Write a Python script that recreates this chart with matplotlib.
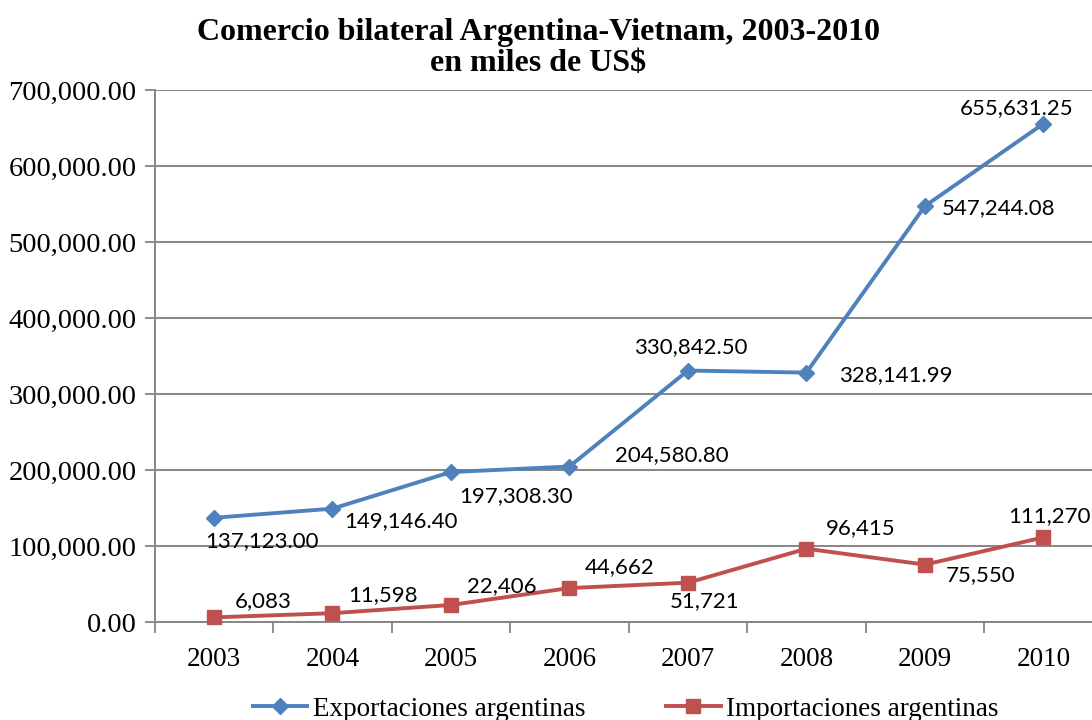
import matplotlib
matplotlib.use("Agg")
import matplotlib.pyplot as plt
from matplotlib.ticker import FuncFormatter, FixedLocator

years = ["2003", "2004", "2005", "2006", "2007", "2008", "2009", "2010"]
exportaciones = [137123.00, 149146.40, 197308.30, 204580.80, 330842.50, 328141.99, 547244.08, 655631.25]
importaciones = [6083, 11598, 22406, 44662, 51721, 96415, 75550, 111270]
exp_labels = ["137,123.00", "149,146.40", "197,308.30", "204,580.80", "330,842.50", "328,141.99", "547,244.08", "655,631.25"]
imp_labels = ["6,083", "11,598", "22,406", "44,662", "51,721", "96,415", "75,550", "111,270"]

# label offsets in pixels (dx, dy) relative to the point
exp_off = [(48, -23), (68, -12), (65, -24), (102, 11), (3, 23), (89, -2), (74, -2), (-27, 16)]
imp_off = [(49, 16), (51, 18), (51, 19), (50, 21), (17, -18), (54, 21), (56, -11), (6, 21)]

blue = "#4F81BD"
red = "#C0504D"
grid = "#868686"
serif = ["Liberation Serif", "DejaVu Serif"]
sans = ["Lato", "DejaVu Sans"]

fig = plt.figure(figsize=(10.92, 7.2), dpi=100)
ax = fig.add_axes([0.1417, 0.1361, 0.868, 0.7389])

x = list(range(len(years)))
ax.plot(x, exportaciones, color=blue, lw=2.8, marker="D", ms=8, mfc=blue, mec=blue,
        label="Exportaciones argentinas", zorder=3, clip_on=False)
ax.plot(x, importaciones, color=red, lw=2.8, marker="s", ms=10, mfc=red, mec=red,
        label="Importaciones argentinas", zorder=3, clip_on=False)

for xi, v, t, (dx, dy) in zip(x, exportaciones, exp_labels, exp_off):
    ax.annotate(t, (xi, v), xytext=(dx, dy), textcoords="offset pixels",
                ha="center", va="center", fontsize=16, family=sans, color="black")
for xi, v, t, (dx, dy) in zip(x, importaciones, imp_labels, imp_off):
    ax.annotate(t, (xi, v), xytext=(dx, dy), textcoords="offset pixels",
                ha="center", va="center", fontsize=16, family=sans, color="black",
                annotation_clip=False)

ax.set_xlim(-0.5, len(years) - 0.5)
ax.set_ylim(0, 700000)
ax.set_yticks(range(0, 700001, 100000))
ax.yaxis.set_major_formatter(FuncFormatter(lambda v, p: f"{v:,.2f}"))
ax.set_xticks(x)
ax.set_xticklabels(years)
ax.xaxis.set_minor_locator(FixedLocator([i + 0.5 for i in range(-1, len(years))]))
ax.tick_params(axis="x", which="major", length=0, pad=18)
ax.tick_params(axis="x", which="minor", length=8, width=1.3, color=grid, direction="out")
ax.tick_params(axis="y", length=7, width=1.3, color=grid, direction="out", pad=6)
for lab in ax.get_xticklabels():
    lab.set_family(serif)
    lab.set_fontsize(19.5)
for lab in ax.get_yticklabels():
    lab.set_family(serif)
    lab.set_fontsize(20.5)

ax.grid(axis="y", color=grid, lw=1.4)
ax.set_axisbelow(True)
for s in ["top", "right"]:
    ax.spines[s].set_visible(False)
for s in ["left", "bottom"]:
    ax.spines[s].set_color(grid)
    ax.spines[s].set_linewidth(1.4)

fig.text(0.493, 0.933, "Comercio bilateral Argentina-Vietnam, 2003-2010\nen miles de US$",
         ha="center", va="center", fontsize=23, fontweight="bold", family=serif,
         linespacing=1.08)

leg = fig.legend(loc="center", bbox_to_anchor=(0.573, 0.015), ncol=2, frameon=False,
                 prop={"family": serif, "size": 19.5}, handlelength=2.0,
                 columnspacing=3.0, handletextpad=0.2, borderaxespad=0)

fig.savefig("out.png", dpi=100)
